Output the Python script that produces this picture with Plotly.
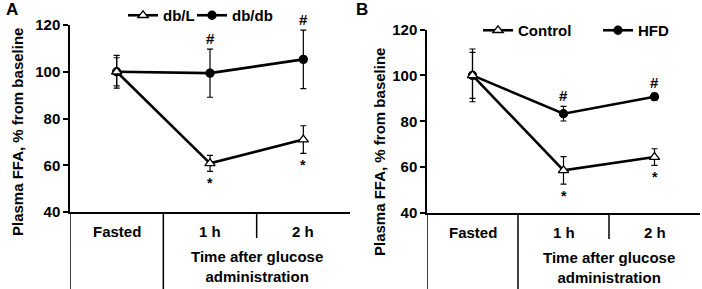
import plotly.graph_objects as go

categories = ["Fasted", "1 h", "2 h"]
group_label = "Time after glucose<br>administration"

# Panel A
dbL = [100, 60.8, 71.0]
dbL_err = [6.0, 3.4, 5.9]
dbdb = [100, 99.4, 105.3]
dbdb_err = [7.0, 10.3, 12.5]
hash_A = ["", "#", "#"]
star_A = ["", "*", "*"]

# Panel B
control = [100, 58.6, 64.4]
control_err = [10.0, 6.0, 3.6]
hfd = [100, 83.3, 90.7]
hfd_err = [11.5, 3.2, 1.5]
hash_B = ["", "#", "#"]
star_B = ["", "*", "*"]

yticks = [40, 60, 80, 100, 120]

W, H = 702, 289
FONT = "Liberation Sans, Arial, sans-serif"


def px(x):
    return x / W


def py(y):
    return 1 - y / H


xs = [i + 0.5 for i in range(len(categories))]

fig = go.Figure()


def add_series(name, vals, errs, xa, ya, symbol, fill, legend, lw):
    fig.add_trace(go.Scatter(
        x=xs, y=vals, name=name, mode="lines+markers",
        xaxis=xa, yaxis=ya, legend=legend, legendwidth=lw,
        line=dict(color="black", width=2.6),
        marker=dict(symbol=symbol, size=8 if symbol == "circle" else 9,
                    color=fill, line=dict(color="black", width=1.3)),
        error_y=dict(type="data", array=errs, visible=True,
                     color="black", thickness=1.2, width=3),
    ))


add_series("db/db", dbdb, dbdb_err, "x", "y", "circle", "black", "legend", 42)
add_series("db/L", dbL, dbL_err, "x", "y", "triangle-up", "white", "legend", 24)
add_series("HFD", hfd, hfd_err, "x2", "y2", "circle", "black", "legend2", 36)
add_series("Control", control, control_err, "x2", "y2", "triangle-up", "white", "legend2", 75)

axis_common = dict(showgrid=False, zeroline=False, showline=True,
                   linecolor="black", linewidth=1.5, automargin=False)

BOLD15 = dict(family=FONT, size=15, weight="bold")

fig.update_layout(
    width=W, height=H, margin=dict(l=0, r=0, t=0, b=0, autoexpand=False),
    paper_bgcolor="white", plot_bgcolor="white",
    font=dict(family=FONT, size=15, color="black"),
    showlegend=True,
    xaxis=dict(domain=[px(70), px(350)], range=[0, 3], showticklabels=False,
               ticks="", anchor="y", **axis_common),
    yaxis=dict(domain=[py(212), py(25)], range=[40, 120], tickvals=yticks,
               ticks="outside", ticklen=5, tickwidth=1.5, tickcolor="black",
               tickfont=BOLD15, anchor="x", **axis_common),
    xaxis2=dict(domain=[px(427), px(700)], range=[0, 3], showticklabels=False,
                ticks="", anchor="y2", **axis_common),
    yaxis2=dict(domain=[py(213), py(29.5)], range=[40, 120], tickvals=yticks,
                ticks="outside", ticklen=5, tickwidth=1.5, tickcolor="black",
                tickfont=BOLD15, anchor="x2", **axis_common),
    legend=dict(x=px(123), y=py(-1), xanchor="left", yanchor="top",
                orientation="h", traceorder="reversed",
                font=BOLD15, bgcolor="rgba(0,0,0,0)", itemwidth=30),
    legend2=dict(x=px(478), y=py(14), xanchor="left", yanchor="top",
                 orientation="h", traceorder="reversed",
                 font=BOLD15, bgcolor="rgba(0,0,0,0)", itemwidth=30),
)

shapes = []
annotations = []

panels = [
    ("x", "y", 212, "A", 12, 10, 17, 132,
     [(dbdb, dbdb_err, hash_A), (dbL, dbL_err, star_A)]),
    ("x2", "y2", 213, "B", 362, 9, 379, 152,
     [(hfd, hfd_err, hash_B), (control, control_err, star_B)]),
]

for xa, ya, ybot, letter, lx, ly, tx, ty, marks in panels:
    # category table dividers
    shapes.append(dict(type="line", xref=xa, yref="paper", x0=0, x1=0,
                       y0=0, y1=py(ybot), line=dict(color="black", width=1.5)))
    shapes.append(dict(type="line", xref=xa, yref="paper", x0=1, x1=1,
                       y0=0, y1=py(ybot), line=dict(color="black", width=1.5)))
    shapes.append(dict(type="line", xref=xa, yref="paper", x0=2, x1=2,
                       y0=py(ybot + 26), y1=py(ybot), line=dict(color="black", width=1.5)))
    for xv, cat in zip(xs, categories):
        annotations.append(dict(x=xv, y=py(ybot + 19), xref=xa, yref="paper",
                                text=cat, showarrow=False, font=BOLD15,
                                xanchor="center", yanchor="middle"))
    annotations.append(dict(x=2.0, y=py(ybot + 54), xref=xa, yref="paper",
                            text=group_label, showarrow=False, font=BOLD15,
                            xanchor="center", yanchor="middle"))
    annotations.append(dict(x=px(lx), y=py(ly), xref="paper", yref="paper",
                            text=letter, showarrow=False,
                            xanchor="center", yanchor="middle",
                            font=dict(family=FONT, size=17, weight="bold")))
    annotations.append(dict(x=px(tx), y=py(ty), xref="paper", yref="paper",
                            text="Plasma FFA, % from baseline", textangle=-90,
                            xanchor="center", yanchor="middle",
                            showarrow=False, font=BOLD15))
    (hv, he, hl), (sv, se, sl) = marks
    for xv, v, e, t in zip(xs, hv, he, hl):
        if t:
            annotations.append(dict(x=xv, y=v + e, xref=xa, yref=ya, text=t,
                                    showarrow=False, yanchor="bottom", yshift=0,
                                    xanchor="center", font=BOLD15))
    for xv, v, e, t in zip(xs, sv, se, sl):
        if t:
            annotations.append(dict(x=xv, y=v - e, xref=xa, yref=ya, text=t,
                                    showarrow=False, yanchor="top", yshift=-2,
                                    xanchor="center",
                                    font=dict(family=FONT, size=14, weight="bold")))

fig.update_layout(shapes=shapes, annotations=annotations)
fig.write_html("out.html", config={"displayModeBar": False},
               post_script="document.body.style.margin='0';document.body.style.padding='0';")
